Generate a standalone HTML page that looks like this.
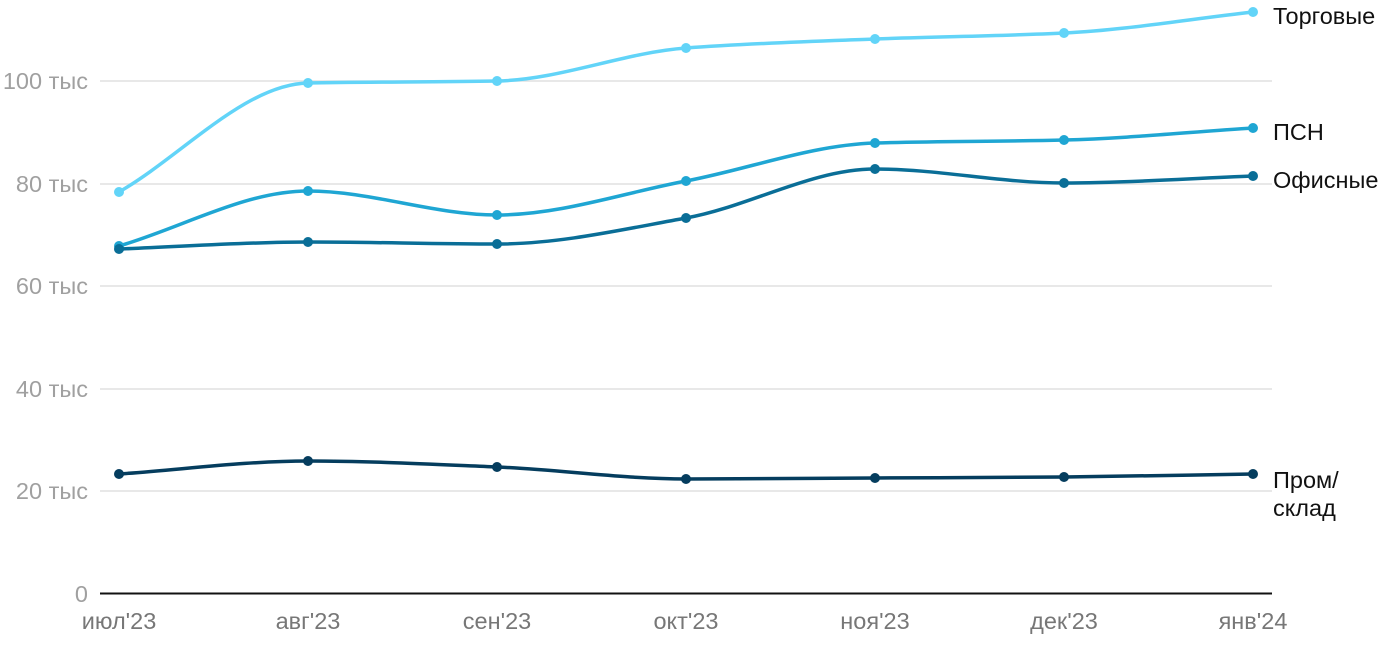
<!DOCTYPE html>
<html><head><meta charset="utf-8"><style>
html,body{margin:0;padding:0;background:#fff;width:1400px;height:650px;overflow:hidden}
svg{display:block;font-family:"Liberation Sans",sans-serif}
</style></head><body>
<svg id="c" width="1400" height="650" xmlns="http://www.w3.org/2000/svg">
<g stroke="#e0e0e0" stroke-width="1.5">
<line x1="100" x2="1272" y1="81" y2="81"/>
<line x1="100" x2="1272" y1="184" y2="184"/>
<line x1="100" x2="1272" y1="286" y2="286"/>
<line x1="100" x2="1272" y1="389" y2="389"/>
<line x1="100" x2="1272" y1="491" y2="491"/>
</g>
<line x1="100" x2="1272" y1="593.5" y2="593.5" stroke="#111" stroke-width="2"/>
<g fill="#a0a0a0" font-size="23.5" text-anchor="end">
<text x="88" y="89">100 тыс</text>
<text x="88" y="192">80 тыс</text>
<text x="88" y="294">60 тыс</text>
<text x="88" y="397">40 тыс</text>
<text x="88" y="499">20 тыс</text>
<text x="88" y="602">0</text>
</g>
<g fill="#777" font-size="23.5" text-anchor="middle">
<text x="119" y="629">июл'23</text>
<text x="308" y="629">авг'23</text>
<text x="497" y="629">сен'23</text>
<text x="686" y="629">окт'23</text>
<text x="875" y="629">ноя'23</text>
<text x="1064" y="629">дек'23</text>
<text x="1253" y="629">янв'24</text>
</g>
<g fill="#111" font-size="23.5">
<text x="1273" y="24">Торговые</text>
<text x="1273" y="140">ПСН</text>
<text x="1273" y="188">Офисные</text>
<text x="1273" y="488">Пром/</text>
<text x="1273" y="516">склад</text>
</g>
<g id="series"></g>
</svg>
<script>
var xs=[119,308,497,686,875,1064,1253];
var S=[
["#62d4f8",[192,83,81,48,39,33,12]],
["#1fa6d3",[246,191,215,181,143,140,128]],
["#0a6e97",[249,242,244,218,169,183,176]],
["#053d5e",[474,461,467,479,478,477,474]]];
var g=document.getElementById('series'),ns="http://www.w3.org/2000/svg";
S.forEach(function(s){
 var y=s[1],n=y.length,h=189,d=[],m=[];
 for(var i=0;i<n-1;i++)d.push((y[i+1]-y[i])/h);
 for(var i=0;i<n;i++){
  if(i==0)m.push(d[0]);else if(i==n-1)m.push(d[n-2]);
  else m.push(d[i-1]*d[i]<=0?0:(2/(1/d[i-1]+1/d[i])));
 }
 var p="M"+xs[0]+","+y[0];
 for(var i=0;i<n-1;i++){
  p+=" C"+(xs[i]+h/3)+","+(y[i]+m[i]*h/3)+" "+(xs[i+1]-h/3)+","+(y[i+1]-m[i+1]*h/3)+" "+xs[i+1]+","+y[i+1];
 }
 var e=document.createElementNS(ns,'path');
 e.setAttribute('d',p);e.setAttribute('fill','none');e.setAttribute('stroke',s[0]);e.setAttribute('stroke-width','3.5');
 g.appendChild(e);
 for(var i=0;i<n;i++){var c=document.createElementNS(ns,'circle');c.setAttribute('cx',xs[i]);c.setAttribute('cy',y[i]);c.setAttribute('r','5');c.setAttribute('fill',s[0]);g.appendChild(c);}
});
</script>
</body></html>
